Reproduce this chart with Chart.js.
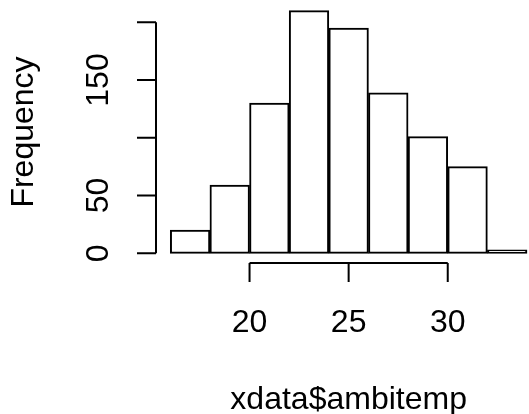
<!DOCTYPE html>
<html>
<head>
<meta charset="utf-8">
<script src="https://cdn.jsdelivr.net/npm/chart.js@4.4.0/dist/chart.umd.min.js"></script>
<style>
  html, body { margin: 0; padding: 0; background: #fff; }
  canvas { display: block; }
</style>
</head>
<body>
<canvas id="hist" width="529" height="414"></canvas>
<script>
// histogram of ambient temperature, bins of width 2
const breaks = [16, 18, 20, 22, 24, 26, 28, 30, 32, 34];
const counts = [20, 59, 130, 210, 195, 139, 101, 75, 3];
const xTicks = [20, 25, 30];
const yTicks = [0, 50, 100, 150, 200];
const yTickLabels = ['0', '50', '', '150', ''];
const xTitle = 'xdata$ambitemp';
const yTitle = 'Frequency';

const FONT = '32px "Liberation Sans", Arial, sans-serif';
const LW = 2;

const bins = counts.map((c, i) => ({ x: (breaks[i] + breaks[i + 1]) / 2, y: c }));

// base-graphics style axes: detached lines that only span the tick range
const rAxes = {
    id: 'rAxes',
    afterDraw(chart) {
        const { ctx, chartArea, scales } = chart;
        const xs = scales.x, ys = scales.y;
        const tick = 19;
        ctx.save();
        ctx.strokeStyle = '#000';
        ctx.fillStyle = '#000';
        ctx.lineWidth = LW;
        ctx.font = FONT;

        // x axis
        const yAx = chartArea.bottom;
        ctx.beginPath();
        ctx.moveTo(xs.getPixelForValue(xTicks[0]), yAx);
        ctx.lineTo(xs.getPixelForValue(xTicks[xTicks.length - 1]), yAx);
        xTicks.forEach(v => {
            const px = xs.getPixelForValue(v);
            ctx.moveTo(px, yAx);
            ctx.lineTo(px, yAx + tick);
        });
        ctx.stroke();
        ctx.textAlign = 'center';
        ctx.textBaseline = 'alphabetic';
        xTicks.forEach(v => ctx.fillText(String(v), xs.getPixelForValue(v), 331.5));

        // y axis
        const xAx = chartArea.left;
        ctx.beginPath();
        ctx.moveTo(xAx, ys.getPixelForValue(yTicks[0]));
        ctx.lineTo(xAx, ys.getPixelForValue(yTicks[yTicks.length - 1]));
        yTicks.forEach(v => {
            const py = ys.getPixelForValue(v);
            ctx.moveTo(xAx, py);
            ctx.lineTo(xAx - tick, py);
        });
        ctx.stroke();
        yTicks.forEach((v, i) => {
            if (!yTickLabels[i]) return;
            ctx.save();
            ctx.translate(108, ys.getPixelForValue(v));
            ctx.rotate(-Math.PI / 2);
            ctx.fillText(yTickLabels[i], 0, 0);
            ctx.restore();
        });

        // titles
        ctx.fillText(xTitle, xs.getPixelForValue(25), 409);
        ctx.save();
        ctx.translate(33, (chartArea.top + chartArea.bottom) / 2);
        ctx.rotate(-Math.PI / 2);
        ctx.fillText(yTitle, 0, 0);
        ctx.restore();
        ctx.restore();
    }
};

new Chart(document.getElementById('hist').getContext('2d'), {
    type: 'bar',
    data: {
        datasets: [{
            data: bins,
            backgroundColor: '#fff',
            borderColor: '#000',
            borderWidth: LW,
            borderSkipped: false,
            barPercentage: 1,
            categoryPercentage: 1
        }]
    },
    options: {
        responsive: false,
        animation: false,
        layout: { padding: { left: 156, top: 1, right: 0, bottom: 151 } },
        plugins: { legend: { display: false }, tooltip: { enabled: false } },
        scales: {
            x: { type: 'linear', min: 15.28, max: 34.1, offset: false, display: false },
            y: { type: 'linear', min: -8.4, max: 218.4, display: false }
        }
    },
    plugins: [rAxes]
});
</script>
</body>
</html>
